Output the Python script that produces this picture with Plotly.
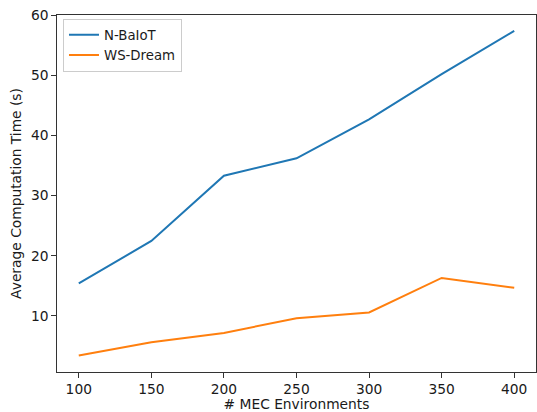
import plotly.graph_objects as go

# Number of MEC environments on the x axis
mec_envs = [100, 150, 200, 250, 300, 350, 400]

# Average computation time (seconds) per dataset
n_baiot = [15.4, 22.45, 33.3, 36.2, 42.7, 50.2, 57.4]
ws_dream = [3.4, 5.6, 7.15, 9.6, 10.55, 16.3, 14.65]

x_ticks = [100, 150, 200, 250, 300, 350, 400]
y_ticks = [10, 20, 30, 40, 50, 60]

FONT = "DejaVu Sans, Verdana, sans-serif"
FS = 13.8
TXT = "#1a1a1a"

fig = go.Figure()
fig.add_trace(go.Scatter(x=mec_envs, y=n_baiot, mode="lines", name="N-BaIoT",
                         line=dict(color="#1f77b4", width=2)))
fig.add_trace(go.Scatter(x=mec_envs, y=ws_dream, mode="lines", name="WS-Dream",
                         line=dict(color="#ff7f0e", width=2)))

axis_common = dict(
    showgrid=False, zeroline=False,
    showline=True, linecolor="#333333", linewidth=1.3, mirror=True,
    ticks="outside", ticklen=4.5, tickwidth=1.1, tickcolor="#333333",
    tickfont=dict(family=FONT, size=FS, color=TXT),
)

fig.update_xaxes(range=[85, 415], tickvals=x_ticks,
                 title=dict(text="# MEC Environments", standoff=5,
                            font=dict(family=FONT, size=FS, color=TXT)),
                 **axis_common)
fig.update_yaxes(range=[0.65, 60.05], tickvals=y_ticks,
                 title=dict(text="Average Computation Time (s)", standoff=6,
                            font=dict(family=FONT, size=FS, color=TXT)),
                 **axis_common)

fig.update_layout(
    width=537, height=412,
    margin=dict(l=57, r=1, t=15, b=40),
    plot_bgcolor="white", paper_bgcolor="white",
    font=dict(family=FONT, size=FS, color=TXT),
    showlegend=True,
    legend=dict(x=0.0125, y=0.99, xanchor="left", yanchor="top",
                bgcolor="rgba(255,255,255,0.8)", bordercolor="#cccccc",
                borderwidth=1, itemwidth=30, tracegroupgap=0,
                font=dict(family=FONT, size=13.3, color=TXT)),
)

fig.write_html("out.html")
